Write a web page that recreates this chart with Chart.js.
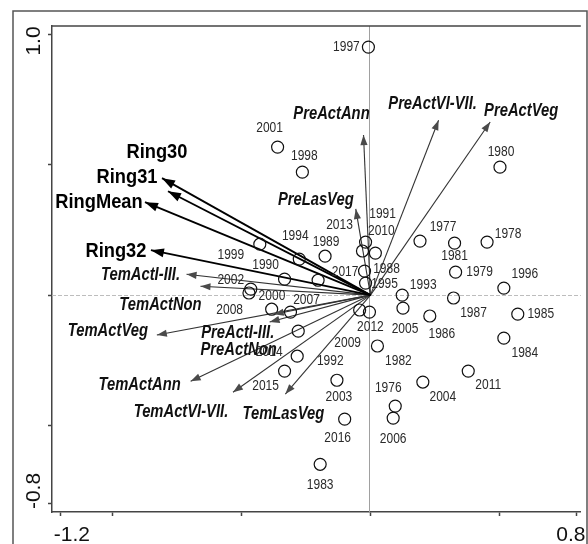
<!DOCTYPE html>
<html>
<head>
<meta charset="utf-8">
<script src="https://cdn.jsdelivr.net/npm/chart.js@4.4.1/dist/chart.umd.min.js"></script>
<style>
  html, body { margin: 0; padding: 0; background: #fff; }
  #wrap { width: 588px; height: 544px; }
</style>
</head>
<body>
<div id="wrap"><canvas id="biplot"></canvas></div>
<script>
// site scores (years)
const years = [1976, 1977, 1978, 1979, 1980, 1981, 1982, 1983, 1984, 1985, 1986, 1987, 1988, 1989,
  1990, 1991, 1992, 1993, 1994, 1995, 1996, 1997, 1998, 1999, 2000, 2001, 2002, 2003,
  2004, 2005, 2006, 2007, 2008, 2009, 2010, 2011, 2012, 2013, 2014, 2015, 2016, 2017];
const yearX = [0.096, 0.192, 0.452, 0.330, 0.502, 0.326, 0.027, -0.195, 0.517, 0.571, 0.230, 0.322, -0.023, -0.176,
  -0.333, -0.019, -0.280, 0.123, -0.276, -0.019, 0.517, -0.008, -0.264, -0.429, -0.471, -0.360, -0.464, -0.130,
  0.203, 0.126, 0.088, -0.310, -0.383, -0.042, 0.019, 0.379, -0.004, -0.031, -0.284, -0.333, -0.100, -0.203];
const yearY = [-0.425, 0.207, 0.203, 0.088, 0.490, 0.199, -0.195, -0.648, -0.165, -0.073, -0.080, -0.011, 0.092, 0.149,
  0.061, 0.203, -0.138, 0.000, 0.138, 0.046, 0.027, 0.950, 0.471, 0.195, 0.008, 0.567, 0.023, -0.326,
  -0.333, -0.050, -0.471, -0.065, -0.054, -0.057, 0.161, -0.291, -0.065, 0.169, -0.234, -0.291, -0.475, 0.057];

// ring width vectors
const ringVars = ['Ring30', 'Ring31', 'RingMean', 'Ring32'];
const ringX = [-0.785, -0.808, -0.874, -0.851];
const ringY = [0.398, 0.448, 0.356, 0.172];

// climate vectors
const envVars = ['TemActI-III.', 'TemActNon', 'TemActVeg', 'PreActI-III.', 'PreActNon', 'TemActAnn',
  'TemActVI-VII.', 'TemLasVeg', 'PreActAnn', 'PreActVI-VII.', 'PreActVeg', 'PreLasVeg'];
const envX = [-0.713, -0.659, -0.828, -0.375, -0.391, -0.697, -0.533, -0.330, -0.027, 0.264, 0.464, -0.057];
const envY = [0.080, 0.034, -0.153, -0.073, -0.103, -0.330, -0.372, -0.379, 0.613, 0.670, 0.663, 0.330];

const xTicks = [-1.2, -1.0, -0.5, 0, 0.5, 0.8];
const xTickLabels = ['-1.2', '', '', '', '', '0.8'];
const yTicks = [1.0, 0.5, 0, -0.5, -0.8];
const yTickLabels = ['1.0', '', '', '', '-0.8'];

// label placement (pixel offset from point / arrow tip)
const yearLabelOffset = {
  1976: [-7, -18], 1977: [23, -14], 1978: [21, -8], 1979: [24, 0], 1980: [1, -15], 1981: [0, 13],
  1982: [21, 15], 1983: [0, 21], 1984: [21, 15], 1985: [23, 0], 1986: [12, 18], 1987: [20, 15],
  1988: [22, -2], 1989: [1, -14], 1990: [-19, -14], 1991: [17, -28], 1992: [32, 30], 1993: [21, -10],
  1994: [-4, -23], 1995: [19, 1], 1996: [21, -14], 1997: [-22, 0], 1998: [2, -16], 1999: [-29, 11],
  2000: [23, 3], 2001: [-8, -19], 2002: [-20, -9], 2003: [2, 17], 2004: [20, 15], 2005: [2, 21],
  2006: [0, 21], 2007: [16, -12], 2008: [-42, 1], 2009: [-12, 33], 2010: [6, -22], 2011: [20, 14],
  2012: [1, 15], 2013: [-23, -26], 2014: [-28, -4], 2015: [-19, 15], 2016: [-7, 19], 2017: [27, -8]
};
const varLabelOffset = {
  'Ring30': [-11, -39], 'Ring31': [-35, -1], 'RingMean': [-46, 0], 'Ring32': [-35, 1],
  'TemActI-III.': [-46, 1], 'TemActNon': [-40, 19], 'TemActVeg': [-49, -4], 'PreActI-III.': [-36, 19],
  'PreActNon': [-31, 28], 'TemActAnn': [-51, 4], 'TemActVI-VII.': [-52, 20], 'TemLasVeg': [-2, 20],
  'PreActAnn': [-32, -21], 'PreActVI-VII.': [-6, -16], 'PreActVeg': [31, -11], 'PreLasVeg': [-40, -9]
};

const FONT = '"Liberation Sans", Arial, sans-serif';

function squeezedText(ctx, text, x, y, font, color, sx) {
  ctx.save();
  ctx.font = font;
  ctx.fillStyle = color;
  ctx.textAlign = 'center';
  ctx.textBaseline = 'middle';
  ctx.translate(x, y);
  ctx.scale(sx, 1);
  ctx.fillText(text, 0, 0);
  ctx.restore();
}

function arrowHead(ctx, x0, y0, x1, y1, len, half, color) {
  const a = Math.atan2(y1 - y0, x1 - x0);
  const bx = x1 - len * Math.cos(a), by = y1 - len * Math.sin(a);
  ctx.beginPath();
  ctx.moveTo(x1, y1);
  ctx.lineTo(bx - half * Math.sin(a), by + half * Math.cos(a));
  ctx.lineTo(bx + half * Math.sin(a), by - half * Math.cos(a));
  ctx.closePath();
  ctx.fillStyle = color;
  ctx.fill();
}

const biplotDecor = {
  id: 'biplotDecor',
  beforeDatasetsDraw(chart) {
    const { ctx, chartArea: a, scales: { x, y } } = chart;
    const x0 = Math.round(x.getPixelForValue(0)) - 0.5;
    const y0 = Math.round(y.getPixelForValue(0)) + 0.5;
    ctx.save();
    ctx.lineWidth = 1;
    ctx.strokeStyle = '#a0a0a0';
    ctx.beginPath(); ctx.moveTo(x0, a.top); ctx.lineTo(x0, a.bottom); ctx.stroke();
    ctx.strokeStyle = '#bdbdbd';
    ctx.setLineDash([4, 2]);
    ctx.beginPath(); ctx.moveTo(a.left, y0); ctx.lineTo(a.right, y0); ctx.stroke();
    ctx.restore();
  },
  afterDatasetsDraw(chart) {
    const { ctx, scales: { x, y } } = chart;
    const ox = x.getPixelForValue(0), oy = y.getPixelForValue(0);
    ctx.save();
    // arrow heads
    ringVars.forEach((n, i) => {
      arrowHead(ctx, ox, oy, x.getPixelForValue(ringX[i]), y.getPixelForValue(ringY[i]), 13, 4.5, '#000');
    });
    envVars.forEach((n, i) => {
      arrowHead(ctx, ox, oy, x.getPixelForValue(envX[i]), y.getPixelForValue(envY[i]), 10, 3.6, '#4a4a4a');
    });
    // vector labels
    ringVars.forEach((n, i) => {
      const o = varLabelOffset[n];
      squeezedText(ctx, n, x.getPixelForValue(ringX[i]) + o[0], y.getPixelForValue(ringY[i]) + o[1],
        'bold 21px ' + FONT, '#000', 0.87);
    });
    envVars.forEach((n, i) => {
      const o = varLabelOffset[n];
      squeezedText(ctx, n, x.getPixelForValue(envX[i]) + o[0], y.getPixelForValue(envY[i]) + o[1],
        'italic bold 18px ' + FONT, '#111', 0.82);
    });
    // year labels
    years.forEach((yr, i) => {
      const o = yearLabelOffset[yr];
      squeezedText(ctx, String(yr), x.getPixelForValue(yearX[i]) + o[0], y.getPixelForValue(yearY[i]) + o[1],
        '15px ' + FONT, '#2a2a2a', 0.8);
    });
    ctx.restore();
  },
  afterDraw(chart) {
    const { ctx, chartArea: a, scales: { x, y } } = chart;
    ctx.save();
    // outer frame
    ctx.strokeStyle = '#555';
    ctx.lineWidth = 1.5;
    ctx.beginPath();
    ctx.moveTo(13, 560); ctx.lineTo(13, 11); ctx.lineTo(587, 11); ctx.lineTo(587, 560);
    ctx.stroke();
    // top of plot box
    ctx.strokeStyle = '#444';
    ctx.beginPath(); ctx.moveTo(a.left, a.top); ctx.lineTo(a.right, a.top); ctx.stroke();
    // tick labels
    ctx.fillStyle = '#111';
    ctx.font = '21px ' + FONT;
    ctx.textBaseline = 'alphabetic';
    ctx.textAlign = 'center';
    xTicks.forEach((v, i) => {
      if (!xTickLabels[i]) return;
      const shift = v < 0 ? 11 : -6;
      ctx.fillText(xTickLabels[i], x.getPixelForValue(v) + shift, 541);
    });
    yTicks.forEach((v, i) => {
      if (!yTickLabels[i]) return;
      const shift = v > 0 ? 7 : -13;
      ctx.save();
      ctx.translate(40, y.getPixelForValue(v) + shift);
      ctx.rotate(-Math.PI / 2);
      ctx.fillText(yTickLabels[i], 0, 0);
      ctx.restore();
    });
    ctx.restore();
  }
};

const datasets = [{
  type: 'scatter',
  data: years.map((yr, i) => ({ x: yearX[i], y: yearY[i] })),
  pointRadius: 6,
  pointBorderWidth: 1.2,
  pointBorderColor: '#111',
  pointBackgroundColor: 'rgba(0,0,0,0)'
}];
ringVars.forEach((n, i) => {
  datasets.push({
    type: 'line', data: [{ x: 0, y: 0 }, { x: ringX[i], y: ringY[i] }],
    borderColor: '#000', borderWidth: 1.8, pointRadius: 0, fill: false
  });
});
envVars.forEach((n, i) => {
  datasets.push({
    type: 'line', data: [{ x: 0, y: 0 }, { x: envX[i], y: envY[i] }],
    borderColor: '#333', borderWidth: 1.1, pointRadius: 0, fill: false
  });
});

function fixedTicks(list) {
  return function (scale) { scale.ticks = list.map(v => ({ value: v })); };
}

new Chart(document.getElementById('biplot'), {
  type: 'scatter',
  data: { datasets: datasets },
  options: {
    responsive: true,
    maintainAspectRatio: false,
    animation: false,
    layout: { padding: { left: 48, top: 26, right: 1, bottom: 28 } },
    plugins: { legend: { display: false }, tooltip: { enabled: false } },
    scales: {
      x: {
        type: 'linear', min: -1.2345, max: 0.8153,
        afterBuildTicks: fixedTicks(xTicks),
        ticks: { display: false },
        grid: { drawOnChartArea: false, drawTicks: true, tickLength: 4, tickColor: '#444', tickWidth: 1.5 },
        border: { display: true, color: '#444', width: 1.5 }
      },
      y: {
        type: 'linear', min: -0.8307, max: 1.0307,
        afterBuildTicks: fixedTicks(yTicks),
        ticks: { display: false },
        grid: { drawOnChartArea: false, drawTicks: true, tickLength: 4, tickColor: '#444', tickWidth: 1.5 },
        border: { display: true, color: '#444', width: 1.5 }
      }
    }
  },
  plugins: [biplotDecor]
});
</script>
</body>
</html>
